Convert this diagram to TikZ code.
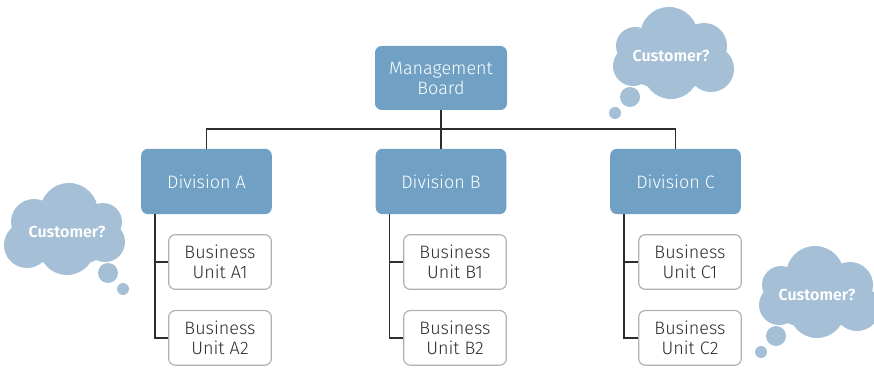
\documentclass[tikz,border=0pt]{standalone}
\usepackage{fontspec}
\setmainfont{Fira Sans}[UprightFont=* Light, BoldFont=* SemiBold]
\usepackage{xcolor}
\usetikzlibrary{positioning}
\definecolor{boardblue}{RGB}{112, 160, 196}
\definecolor{cloudblue}{RGB}{165, 191, 214}
\definecolor{unitgray}{RGB}{178, 178, 178}
\definecolor{inkgray}{RGB}{45, 45, 45}

\tikzset{
  thought/.pic={
    \fill[cloudblue] (2,20) circle (29)
      (-33,10) circle (23) (36,10) circle (19)
      (-40,-13) circle (23) (0,-15) circle (28) (38,-10) circle (20)
      (0,0) ellipse (52 and 34);
    \fill[cloudblue] (41,-41) circle (10) (56,-57) circle (6);
  }
}

\begin{document}
\begin{tikzpicture}[
    x=0.75pt, y=0.75pt,
    board/.style={
      rectangle,
      rounded corners=5pt,
      fill=boardblue,
      text=white,
      minimum width=99pt,
      minimum height=48pt,
      align=center,
      font=\fontsize{13.5}{15}\selectfont
    },
    division/.style={
      board,
      minimum width=98pt,
      minimum height=49pt
    },
    unit/.style={
      rectangle,
      rounded corners=5pt,
      draw=unitgray,
      line width=0.9pt,
      fill=white,
      text=inkgray,
      minimum width=77pt,
      minimum height=41pt,
      align=center,
      font=\fontsize{13.5}{15}\selectfont
    },
    ask/.style={text=white, font=\bfseries\fontsize{12}{14}\selectfont},
    link/.style={line width=1.1pt, inkgray}
  ]
    \useasboundingbox (0,0) rectangle (874,368);

    % thought clouds
    \pic at (67,136) {thought};
    \pic[xscale=-1] at (671,312) {thought};
    \pic[xscale=-1] at (817,73) {thought};
    \node[ask] (askA) at (67,136) {Customer?};
    \node[ask] (askTop) at (671,312) {Customer?};
    \node[ask] (askC) at (817,73) {Customer?};

    % org chart
    \node[board] (board) at (441,290) {Management\\Board};
    \node[division] (divA) at (206.5,186.5) {Division A};
    \node[division] (divB) at (441,186.5) {Division B};
    \node[division] (divC) at (675.5,186.5) {Division C};

    \node[unit] (unitA1) at (220,106) {Business\\Unit A1};
    \node[unit, below=15pt of unitA1] (unitA2) {Business\\Unit A2};
    \node[unit] (unitB1) at (455,106) {Business\\Unit B1};
    \node[unit, below=15pt of unitB1] (unitB2) {Business\\Unit B2};
    \node[unit] (unitC1) at (690,106) {Business\\Unit C1};
    \node[unit, below=15pt of unitC1] (unitC2) {Business\\Unit C2};

    \coordinate (bus) at (441,239);
    \draw[link] (board.south) -- (divB.north);
    \draw[link] (divA.north) |- (bus) -| (divC.north);

    \coordinate (spineA) at ([xshift=10.5pt]divA.south west);
    \coordinate (spineB) at ([xshift=10.5pt]divB.south west);
    \coordinate (spineC) at ([xshift=10.5pt]divC.south west);
    \draw[link] (spineA) |- (unitA2.west);
    \draw[link] (spineA |- unitA1.west) -- (unitA1.west);
    \draw[link] (spineB) |- (unitB2.west);
    \draw[link] (spineB |- unitB1.west) -- (unitB1.west);
    \draw[link] (spineC) |- (unitC2.west);
    \draw[link] (spineC |- unitC1.west) -- (unitC1.west);
  \end{tikzpicture}
\end{document}
